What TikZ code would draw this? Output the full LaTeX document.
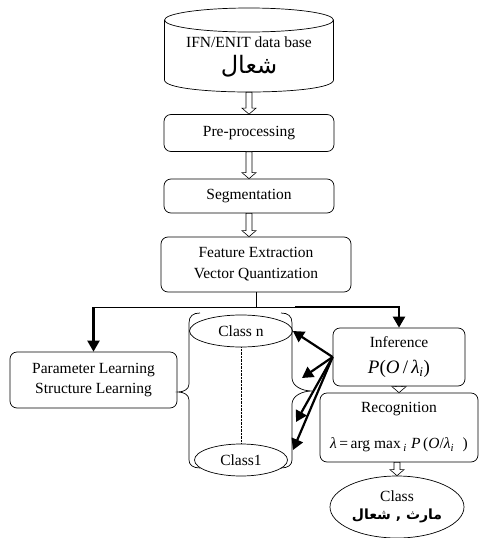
\documentclass[tikz,border=0pt]{standalone}
\usepackage{fontspec}
\setmainfont{Liberation Serif}
\newfontfamily\arabicfont[Script=Arabic]{DejaVu Sans}
\TeXXeTstate=1
\usetikzlibrary{arrows.meta,calc,shapes.geometric}

\newcommand\hollowdown[2]{%
  \draw[hollow] ($(#1)+(-3,0)$) -- ($(#2)+(-3,-6)$) -- ($(#2)+(-7,-6)$) -- (#2)
    -- ($(#2)+(7,-6)$) -- ($(#2)+(3,-6)$) -- ($(#1)+(3,0)$) -- cycle;}

\begin{document}
\begin{tikzpicture}[
    x=1pt, y=-1pt,
    txt/.style={font=\fontsize{15.5}{20}\selectfont, align=center, inner sep=0pt},
    box/.style={txt, draw, rounded corners=7pt, line width=0.7pt},
    oval/.style={txt, draw, ellipse, line width=0.7pt},
    hollow/.style={draw, fill=white, line width=0.6pt},
    arr/.style={-{Triangle[length=11pt,width=12pt]}, line width=2.2pt}
  ]
    \useasboundingbox (0,0) rectangle (480,538);

    % data base
    \node[minimum width=169pt, minimum height=84pt, inner sep=0pt] (db) at (249,50) {};
    \draw[line width=0.7pt] (164.5,20) -- (164.5,80) .. controls (164.5,96) and (333.5,96) .. (333.5,80) -- (333.5,20);
    \draw[line width=0.7pt] (249,20) ellipse [x radius=84.5pt, y radius=12pt];
    \node[txt] (dbtitle) at (249,42) {IFN/ENIT data base};
    \node[txt, font=\fontsize{24}{26}\selectfont] (dbword) at (249,66) {\arabicfont\beginR شعال\endR};

    \node[box, minimum width=170pt, minimum height=37pt] (pre) at (249,133) {Pre-processing};
    \node[box, minimum width=170pt, minimum height=34pt] (seg) at (249,196) {Segmentation};
    \node[box, font=\fontsize{15.5}{21}\selectfont, minimum width=190pt, minimum height=55pt] (feat) at (256,264.5)
      {Feature Extraction\\Vector Quantization};
    \node[box, minimum width=167pt, minimum height=56pt] (param) at (93.5,380)
      {Parameter Learning\\Structure Learning};
    \node[box, font=\fontsize{15.5}{26}\selectfont, minimum width=132pt, minimum height=58pt] (infer) at (399,357)
      {Inference\\{\fontsize{19}{20}\selectfont\textit{P}(\textit{O}\,/\,\textit{λ}\textsubscript{\textit{i}})}};
    \node[box, font=\fontsize{15.5}{36}\selectfont, minimum width=158pt, minimum height=69pt] (recog) at (399,427.5)
      {Recognition\\\textit{λ}\,=\,arg max\,\textsubscript{\textit{i}}\;\textit{P}\,(\textit{O}/\textit{λ}\textsubscript{\textit{i}}\;\;)};

    % class store
    \node[oval, minimum width=103pt, minimum height=32pt] (classn) at (241,331) {Class n};
    \node[oval, minimum width=93pt, minimum height=32pt] (classone) at (241,460) {Class1};
    \draw[densely dotted, line width=0.4pt] (classn.south) -- (classone.north);
    \draw[line width=0.7pt] (200,313) .. controls (193,313) and (189,316) .. (189,323) -- (189,384)
      .. controls (189,389) and (184,392) .. (178,392) .. controls (184,392) and (189,395) .. (189,400)
      -- (189,460) .. controls (189,465) and (193,468) .. (200,468);
    \draw[line width=0.7pt] (281,313) .. controls (288,313) and (292,316) .. (292,323) -- (292,378)
      .. controls (292,386) and (302,391) .. (312,391) .. controls (302,391) and (292,396) .. (292,404)
      -- (292,460) .. controls (292,465) and (288,468) .. (281,468);

    \node[oval, font=\fontsize{15.5}{18}\selectfont, minimum width=134pt, minimum height=62pt] (cls) at (397,507)
      {Class\\{\arabicfont\bfseries\fontsize{14}{16}\selectfont\beginR مارث , شعال\endR}};

    % hollow arrows
    \hollowdown{db.south}{pre.north}
    \hollowdown{pre.south}{seg.north}
    \hollowdown{seg.south}{seg.south |- feat.north}
    \hollowdown{infer.south}{recog.north}
    \hollowdown{recog.south -| cls.north}{cls.north}

    % split
    \coordinate (split) at ($(feat.south)+(0,15)$);
    \coordinate (thick) at ($(split)+(39,0)$);
    \draw[line width=0.7pt] (feat.south) -- (split) -- (split -| param.north);
    \draw[arr] (split -| param.north) -- (param.north);
    \draw[line width=0.7pt] (split) -- (thick);
    \draw[arr] (thick) -| (infer.north);

    % inference to classes
    \coordinate (t2) at (302,378);
    \coordinate (t3) at (296,422);
    \coordinate (t4) at (293,450);
    \draw[arr] (infer.west) -- (classn.east);
    \draw[arr] (infer.west) -- (t2);
    \draw[arr] (infer.west) -- (t3);
    \draw[arr] (infer.west) -- (t4);
  \end{tikzpicture}
\end{document}
